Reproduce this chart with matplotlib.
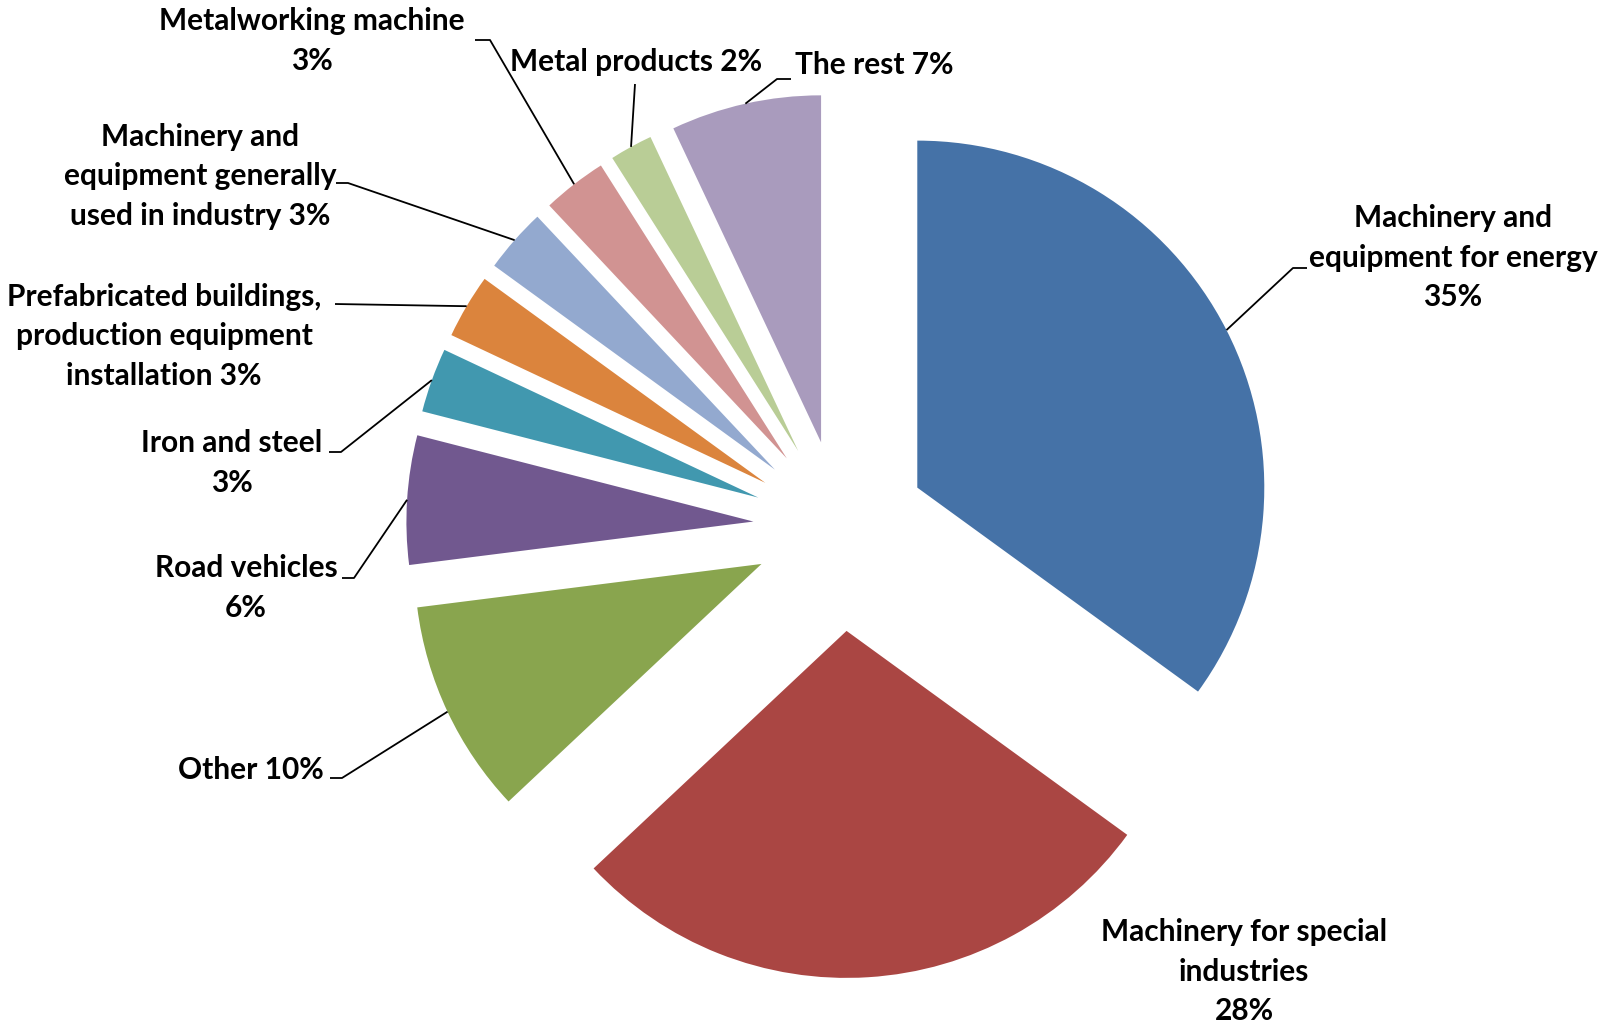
import matplotlib
matplotlib.use("Agg")
import matplotlib.pyplot as plt
import numpy as np

# ---- data ----
categories = [
    "Machinery and\nequipment for energy",
    "Machinery for special\nindustries",
    "Other",
    "Road vehicles",
    "Iron and steel",
    "Prefabricated buildings,\nproduction equipment\ninstallation",
    "Machinery and\nequipment generally\nused in industry",
    "Metalworking machine",
    "Metal products",
    "The rest",
]
values = [35, 28, 10, 6, 3, 3, 3, 3, 2, 7]
pct_sep = ["\n", "\n", " ", "\n", "\n", " ", " ", "\n", " ", " "]
colors = ["#4572A7", "#AA4643", "#89A54E", "#71588F", "#4198AF",
          "#DB843D", "#93A9CF", "#D19392", "#B9CD96", "#A99BBD"]
explode = [0.25, 0.30, 0.25, 0.25, 0.25, 0.25, 0.25, 0.25, 0.25, 0.25]

# ---- layout (pixel coordinates of the 1610x1024 canvas) ----
W, H = 1610, 1024
CX, CY, R = 840, 527, 347
label_pos = [(1453, 258, "center"), (1244, 972, "center"), (324, 770, "right"),
             (246, 588, "center"), (232, 463, "center"), (164, 336, "center"),
             (200, 176, "center"), (312, 41, "center"), (636, 62, "center"),
             (795, 65, "left")]
leaders = [[(1293, 268), (1307, 268)], None, [(342, 778), (330, 778)],
           [(354, 578), (342, 578)], [(341, 452), (329, 452)],
           [(335, 304)], [(348, 183), (336, 183)],
           [(490, 40), (475, 40)], [(635, 84)], [(777, 79), (791, 79)]]


def px(x, y):
    return (x - CX) / R, (CY - y) / R


fig = plt.figure(figsize=(W / 100, H / 100), dpi=100)
ax = fig.add_axes([0, 0, 1, 1])
wedges, _ = ax.pie(values, explode=explode, colors=colors, startangle=90,
                   counterclock=False, radius=1.0, center=(0, 0),
                   wedgeprops=dict(linewidth=0))
ax.set_aspect("auto")
ax.set_xlim(-CX / R, (W - CX) / R)
ax.set_ylim((CY - H) / R, CY / R)
ax.axis("off")

fam = ["Lato", "DejaVu Sans"]
for i, w in enumerate(wedges):
    txt = f"{categories[i]}{pct_sep[i]}{values[i]}%"
    x, y, ha = label_pos[i]
    tx, ty = px(x, y)
    ax.text(tx, ty, txt, ha=ha, va="center", multialignment="center",
            fontsize=21.5, fontweight="bold", family=fam, color="black",
            linespacing=1.5)
    if leaders[i] is not None:
        th = np.deg2rad((w.theta1 + w.theta2) / 2)
        cx, cy = w.center
        pts = [(cx + w.r * np.cos(th), cy + w.r * np.sin(th))]
        pts += [px(*p) for p in leaders[i]]
        xs, ys = zip(*pts)
        ax.plot(xs, ys, color="black", lw=1.3, solid_capstyle="butt")

fig.savefig("out.png", dpi=100, facecolor="white")
